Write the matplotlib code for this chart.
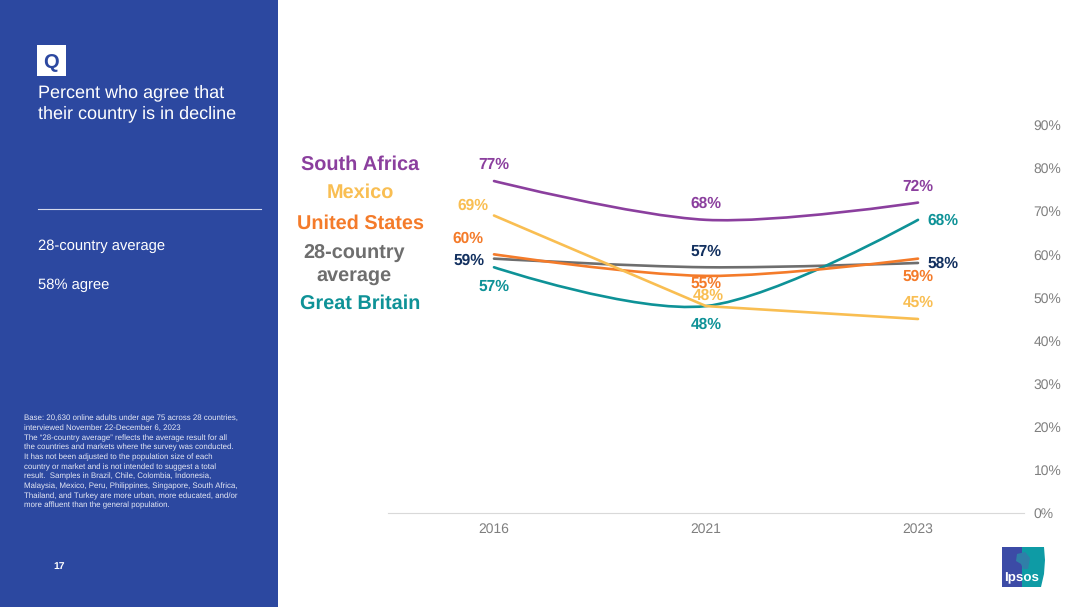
import numpy as np
import matplotlib
matplotlib.use("Agg")
import matplotlib.pyplot as plt
from matplotlib.path import Path
from matplotlib.patches import PathPatch, Rectangle, Polygon

plt.rcParams['font.family'] = ['Liberation Sans', 'DejaVu Sans']
plt.rcParams['text.hinting'] = 'no_hinting'
plt.rcParams['text.hinting_factor'] = 8
plt.rcParams['text.kerning_factor'] = 6

years = ['2016', '2021', '2023']
south_africa = [77, 68, 72]
mexico = [69, 48, 45]
united_states = [60, 55, 59]
average = [59, 57, 58]
great_britain = [57, 48, 68]
y_ticks = list(range(0, 100, 10))

PURPLE = '#8B3F9E'; YELLOW = '#F9BE52'; ORANGE = '#F47B2A'
GREY = '#6E6E6E'; TEAL = '#0E9297'; NAVY = '#12305F'; BLUE = '#2C48A0'

W, H = 1080, 607
fig = plt.figure(figsize=(W/100, H/100), dpi=100, facecolor='white')

# overlay in pixel coordinates (panel, text)
bg = fig.add_axes([0, 0, 1, 1])
bg.set_xlim(0, W); bg.set_ylim(H, 0); bg.axis('off')
bg.add_patch(Rectangle((0, 0), 278, H, fc=BLUE, ec='none'))
bg.add_patch(Rectangle((37, 45), 29, 31, fc='white', ec='none'))
bg.text(51.5, 63, 'Q', color=BLUE, fontsize=14.5, fontweight='bold', ha='center', va='center')
bg.text(38, 103, 'Percent who agree that\ntheir country is in decline', color='white', fontsize=13,
        va='center', linespacing=1.3)
bg.plot([38, 261], [209, 209], color='#D5DAEC', lw=0.8)
bg.text(38, 246, '28-country average', color='white', fontsize=10.6, va='center')
bg.text(38, 285, '58% agree', color='white', fontsize=10.6, va='center')
base = ('Base: 20,630 online adults under age 75 across 28 countries,\n'
        'interviewed November 22-December 6, 2023\n'
        'The “28-country average” reflects the average result for all\n'
        'the countries and markets where the survey was conducted.\n'
        'It has not been adjusted to the population size of each\n'
        'country or market and is not intended to suggest a total\n'
        'result.  Samples in Brazil, Chile, Colombia, Indonesia,\n'
        'Malaysia, Mexico, Peru, Philippines, Singapore, South Africa,\n'
        'Thailand, and Turkey are more urban, more educated, and/or\n'
        'more affluent than the general population.')
bg.text(24, 462, base, color='#E6E9F5', fontsize=5.65, va='center', linespacing=1.38)
bg.text(59, 566.5, '17', color='white', fontsize=7.5, fontweight='bold', ha='center', va='center')

# legend-like series names
for txt, x, y, col in [('South Africa', 360, 165, PURPLE), ('Mexico', 360, 192.5, YELLOW),
                       ('United States', 360, 224, ORANGE), ('28-country\naverage', 354, 265, GREY),
                       ('Great Britain', 360, 303.5, TEAL)]:
    bg.text(x, y, txt, color=col, fontsize=14.3, fontweight='bold', ha='center', va='center', linespacing=1.25)

# logo
bg.add_patch(Polygon([(1002, 547), (1022, 547), (1022, 587), (1002, 587)], fc='#3C4BA6', ec='none'))
bg.add_patch(Polygon([(1022, 547), (1044, 547), (1045, 560), (1044, 574), (1041, 587), (1022, 587)], fc='#0E9BA5', ec='none'))
bg.add_patch(Polygon([(1017, 554), (1025, 552), (1030, 558), (1028, 569), (1023, 569), (1021, 564), (1016, 561)], fc='#2F7FA8', ec='none'))
bg.text(1022, 577.5, 'Ipsos', color='white', fontsize=9.6, fontweight='bold', ha='center', va='center')

# chart
l, r, t, b = 388, 1024, 125, 513
ax = fig.add_axes([l/W, 1-b/H, (r-l)/W, (b-t)/H], facecolor='none')
xs = np.arange(len(years))
ax.set_xlim(-0.5, 2.5); ax.set_ylim(0, 90)
ax.set_xticks(xs, years)
ax.set_yticks(y_ticks, [f'{v}%' for v in y_ticks])
ax.yaxis.tick_right()
ax.tick_params(length=0, labelsize=10, labelcolor='#7F7F7F')
ax.tick_params(axis='x', pad=7)
ax.tick_params(axis='y', pad=7)
for s in ('top', 'left', 'right'):
    ax.spines[s].set_visible(False)
ax.spines['bottom'].set_color('#D9D9D9')
ax.spines['bottom'].set_linewidth(0.8)

def smooth(vals):
    v = np.array(vals, float)
    p = np.column_stack([xs, v])
    tan = np.zeros_like(p)
    tan[1:-1] = (p[2:] - p[:-2]) / 2
    verts = [tuple(p[0])]; codes = [Path.MOVETO]
    for i in range(len(p) - 1):
        verts += [tuple(p[i] + tan[i]/3), tuple(p[i+1] - tan[i+1]/3), tuple(p[i+1])]
        codes += [Path.CURVE4] * 3
    return Path(verts, codes)

for vals, col in [(south_africa, PURPLE), (average, GREY), (great_britain, TEAL),
                  (united_states, ORANGE)]:
    ax.add_patch(PathPatch(smooth(vals), fc='none', ec=col, lw=1.9, capstyle='round'))
ax.plot(xs, mexico, color=YELLOW, lw=1.9, solid_capstyle='round', solid_joinstyle='round')

# data labels, offset in pixels from each point
labels = [
    (south_africa, PURPLE, [(0, 16), (0, 16), (0, 16)]),
    (mexico, YELLOW, [(-21, 10), (2, 10), (0, 16)]),
    (united_states, ORANGE, [(-26, 16), (0, -8), (0, -18)]),
    (average, NAVY, [(-25, -2), (0, 16), (25, -1)]),
    (great_britain, TEAL, [(0, -19), (0, -19), (25, -1)]),
]
for vals, col, offs in labels:
    for i, (v, (dx, dy)) in enumerate(zip(vals, offs)):
        ax.annotate(f'{v}%', (xs[i], v), xytext=(dx*0.72, dy*0.72), textcoords='offset points',
                    color=col, fontsize=11.2, fontweight='bold', ha='center', va='center', annotation_clip=False)

fig.savefig('out.png', dpi=100)
